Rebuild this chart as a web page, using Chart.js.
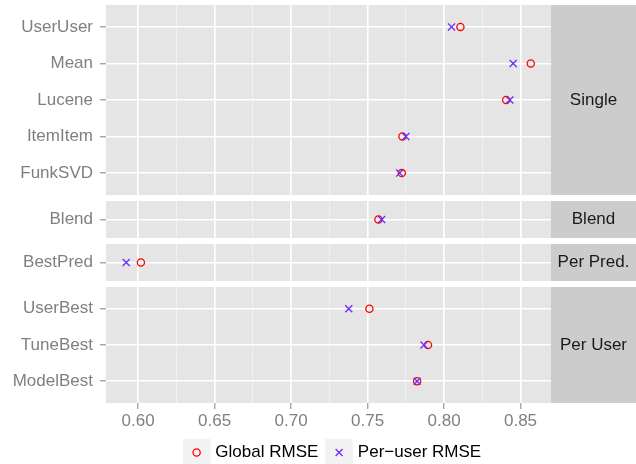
<!DOCTYPE html>
<html>
<head>
<meta charset="utf-8">
<script src="https://cdn.jsdelivr.net/npm/chart.js@4.4.1/dist/chart.umd.min.js"></script>
<style>
    html, body { margin: 0; padding: 0; background: #fff; }
    #wrap { position: relative; width: 636px; height: 464px; overflow: hidden; }
    #wrap canvas { position: absolute; left: 0; }
</style>
</head>
<body>
<div id="wrap">
    <canvas id="single" width="636" height="190" style="top:5px"></canvas>
    <canvas id="blend" width="636" height="37" style="top:201px"></canvas>
    <canvas id="perPred" width="636" height="37" style="top:244px"></canvas>
    <canvas id="perUser" width="636" height="177" style="top:287px"></canvas>
</div>
<script>
const seriesNames = ["Global RMSE", "Per\u2212user RMSE"];
const facetNames = ["Single", "Blend", "Per Pred.", "Per User"];

const singleMethods = ["UserUser", "Mean", "Lucene", "ItemItem", "FunkSVD"];
const singleGlobal = [0.8107, 0.8567, 0.8406, 0.7728, 0.7724];
const singlePerUser = [0.8049, 0.8452, 0.8430, 0.7750, 0.7710];

const blendMethods = ["Blend"];
const blendGlobal = [0.7571];
const blendPerUser = [0.7592];

const perPredMethods = ["BestPred"];
const perPredGlobal = [0.6018];
const perPredPerUser = [0.5922];

const perUserMethods = ["UserBest", "TuneBest", "ModelBest"];
const perUserGlobal = [0.7512, 0.7895, 0.7824];
const perUserPerUser = [0.7377, 0.7869, 0.7824];

const majorTicks = [0.60, 0.65, 0.70, 0.75, 0.80, 0.85];
const minorTicks = [0.625, 0.675, 0.725, 0.775, 0.825];

const seriesColors = ["#FF0000", "#6A2CFF"];

// x limits like ggplot: data range plus 5% on each side
const allValues = [].concat(singleGlobal, singlePerUser, blendGlobal, blendPerUser,
    perPredGlobal, perPredPerUser, perUserGlobal, perUserPerUser);
const dataMin = Math.min(...allValues);
const dataMax = Math.max(...allValues);
const xMin = dataMin - 0.05 * (dataMax - dataMin);
const xMax = dataMax + 0.05 * (dataMax - dataMin);

Chart.defaults.font.family = '"Liberation Sans", Arial, Helvetica, sans-serif';
Chart.defaults.font.size = 17;

const isMajor = (v) => majorTicks.some((m) => Math.abs(m - v) < 1e-6);

const panelPlugin = {
    id: "panel",
    beforeDraw(chart, args, opts) {
        const { ctx, chartArea } = chart;
        ctx.save();
        ctx.fillStyle = "#E5E5E5";
        ctx.fillRect(chartArea.left, chartArea.top, chartArea.right - chartArea.left, chartArea.bottom - chartArea.top);
        ctx.fillStyle = "#CCCCCC";
        ctx.fillRect(chartArea.right, chartArea.top, chart.width - chartArea.right, chartArea.bottom - chartArea.top);
        ctx.fillStyle = "#1A1A1A";
        ctx.font = '17px "Liberation Sans", Arial, sans-serif';
        ctx.textAlign = "center";
        ctx.textBaseline = "middle";
        ctx.fillText(opts.facet, (chartArea.right + chart.width) / 2, (chartArea.top + chartArea.bottom) / 2);
        ctx.restore();
    },
};

const legendPlugin = {
    id: "ggLegend",
    afterDraw(chart) {
        const ctx = chart.ctx;
        const y = 452.5 - 287;
        const key = 27.5, gap = 5, spacing = 7;
        ctx.save();
        ctx.font = '17px "Liberation Sans", Arial, sans-serif';
        const widths = seriesNames.map((s) => ctx.measureText(s).width);
        const total = 2 * (key + gap) + widths[0] + widths[1] + spacing;
        let x = 332 - total / 2;
        seriesNames.forEach((name, i) => {
            ctx.fillStyle = "#F2F2F2";
            ctx.fillRect(x, y - key / 2, key, key);
            const cx = x + key / 2;
            ctx.strokeStyle = seriesColors[i];
            ctx.lineWidth = 1.3;
            ctx.beginPath();
            if (i === 0) {
                ctx.arc(cx, y, 3.6, 0, Math.PI * 2);
            } else {
                const d = 3.5;
                ctx.moveTo(cx - d, y - d); ctx.lineTo(cx + d, y + d);
                ctx.moveTo(cx - d, y + d); ctx.lineTo(cx + d, y - d);
            }
            ctx.stroke();
            ctx.fillStyle = "#000";
            ctx.textAlign = "left";
            ctx.textBaseline = "middle";
            ctx.fillText(name, x + key + gap, y);
            x += key + gap + widths[i] + spacing;
        });
        ctx.restore();
    },
};

function makePanel(id, facet, methods, globalVals, perUserVals, isLast) {
    const n = methods.length;
    const pad = n > 1 ? 0.6 : 0.5;

    const toPoints = (vals) => vals.map((v, i) => ({ x: v, y: i }));

    const config = {
        type: "scatter",
        data: {
            datasets: [
                {
                    label: seriesNames[0],
                    data: toPoints(globalVals),
                    pointStyle: "circle",
                    radius: 3.6,
                    borderWidth: 1.3,
                    borderColor: seriesColors[0],
                    backgroundColor: "rgba(0,0,0,0)",
                    order: 2,
                },
                {
                    label: seriesNames[1],
                    data: toPoints(perUserVals),
                    pointStyle: "crossRot",
                    radius: 5,
                    borderWidth: 1.3,
                    borderColor: seriesColors[1],
                    backgroundColor: "rgba(0,0,0,0)",
                    order: 1,
                },
            ],
        },
        options: {
            responsive: false,
            animation: false,
            devicePixelRatio: 1,
            layout: { autoPadding: false, padding: { left: 0, right: 85, top: 0, bottom: 0 } },
            plugins: {
                legend: { display: false },
                tooltip: { enabled: false },
                panel: { facet: facet },
            },
            scales: {
                x: {
                    type: "linear",
                    min: xMin,
                    max: xMax,
                    afterBuildTicks: (scale) => {
                        scale.ticks = majorTicks.concat(minorTicks).sort((a, b) => a - b).map((v) => ({ value: v }));
                    },
                    afterFit: (scale) => {
                        scale.height = isLast ? 61 : 0;
                        scale.paddingLeft = 0;
                        scale.paddingRight = 0;
                    },
                    border: { display: false },
                    grid: {
                        color: (c) => (isMajor(c.tick.value) ? "#FFFFFF" : "#F2F2F2"),
                        lineWidth: (c) => (isMajor(c.tick.value) ? 1.6 : 0.9),
                        drawTicks: isLast,
                        tickLength: 6,
                        tickWidth: 1,
                        tickColor: (c) => (isMajor(c.tick.value) ? "#7F7F7F" : "rgba(0,0,0,0)"),
                    },
                    ticks: {
                        display: isLast,
                        autoSkip: false,
                        maxRotation: 0,
                        padding: 2,
                        color: "#7F7F7F",
                        callback: (v) => (isMajor(v) ? v.toFixed(2) : ""),
                    },
                },
                y: {
                    type: "linear",
                    reverse: true,
                    min: -pad,
                    max: n - 1 + pad,
                    afterBuildTicks: (scale) => {
                        scale.ticks = methods.map((m, i) => ({ value: i }));
                    },
                    afterFit: (scale) => {
                        scale.width = 106;
                        scale.paddingTop = 0;
                        scale.paddingBottom = 0;
                    },
                    border: { display: false },
                    grid: {
                        color: "#FFFFFF",
                        lineWidth: 1.6,
                        tickLength: 6,
                        tickWidth: 1,
                        tickColor: "#7F7F7F",
                    },
                    ticks: {
                        autoSkip: false,
                        padding: 7,
                        color: "#7F7F7F",
                        callback: (v) => methods[v],
                    },
                },
            },
        },
        plugins: isLast ? [panelPlugin, legendPlugin] : [panelPlugin],
    };

    return new Chart(document.getElementById(id).getContext("2d"), config);
}

makePanel("single", facetNames[0], singleMethods, singleGlobal, singlePerUser, false);
makePanel("blend", facetNames[1], blendMethods, blendGlobal, blendPerUser, false);
makePanel("perPred", facetNames[2], perPredMethods, perPredGlobal, perPredPerUser, false);
makePanel("perUser", facetNames[3], perUserMethods, perUserGlobal, perUserPerUser, true);
</script>
</body>
</html>
